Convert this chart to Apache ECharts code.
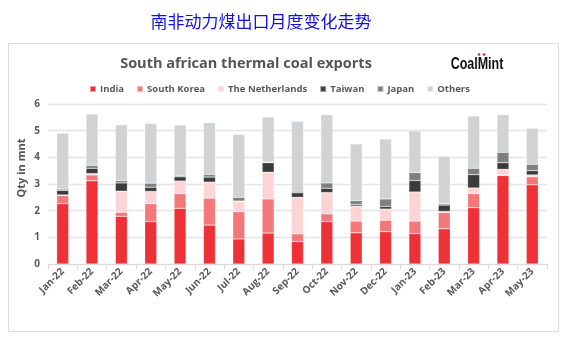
<!DOCTYPE html>
<html><head><meta charset="utf-8">
<script src="https://cdn.jsdelivr.net/npm/echarts@6/dist/echarts.min.js"></script>
<style>html,body{margin:0;padding:0;background:#fff}#c{width:569px;height:345px}</style>
</head><body><div id="c"></div>
<script>
const categories = ['Jan-22','Feb-22','Mar-22','Apr-22','May-22','Jun-22','Jul-22','Aug-22','Sep-22','Oct-22','Nov-22','Dec-22','Jan-23','Feb-23','Mar-23','Apr-23','May-23'];
const india       = [2.26,3.12,1.79,1.59,2.09,1.46,0.94,1.16,0.84,1.59,1.17,1.21,1.14,1.32,2.11,3.32,2.97];
const southKorea  = [0.31,0.22,0.15,0.67,0.55,1.01,1.02,1.28,0.29,0.29,0.44,0.43,0.47,0.61,0.53,0.02,0.30];
const netherlands = [0.02,0.05,0.79,0.46,0.47,0.60,0.38,1.00,1.37,0.80,0.56,0.42,1.09,0.04,0.21,0.21,0.07];
const taiwan      = [0.17,0.20,0.31,0.16,0.16,0.19,0.02,0.36,0.17,0.16,0.06,0.10,0.43,0.24,0.50,0.25,0.16];
const japan       = [0.05,0.11,0.09,0.15,0.05,0.10,0.14,0.02,0.06,0.20,0.15,0.28,0.30,0.05,0.24,0.39,0.24];
const others      = [2.09,1.92,2.09,2.24,1.89,1.94,2.36,1.69,2.62,2.56,2.12,2.25,1.56,1.78,1.96,1.41,1.35];
const yTicks = [0,1,2,3,4,5,6];

const seriesDefs = [
  ['India', india, '#ee3137'],
  ['South Korea', southKorea, '#f47779'],
  ['The Netherlands', netherlands, '#fdd4d6'],
  ['Taiwan', taiwan, '#3b3b3b'],
  ['Japan', japan, '#7f7f7f'],
  ['Others', others, '#d1d2d4']
];
const font = '"Open Sans", Lato, sans-serif';
const chart = echarts.init(document.getElementById('c'), null, {renderer:'canvas'});
chart.setOption({
  animation:false,
  backgroundColor:'#fff',
  graphic:[
    {type:'rect', shape:{x:8.5,y:43.5,width:550,height:288}, style:{fill:'none', stroke:'#dcdcdc', lineWidth:1}, z:-1},
    {type:'text', x:261, y:22, style:{text:'南非动力煤出口月度变化走势', align:'center', verticalAlign:'middle', fill:'#1010f0', font:'17px "Noto Sans CJK SC"'}},
    {type:'text', x:246, y:64, style:{text:'South african thermal coal exports', align:'center', verticalAlign:'middle', fill:'#555555', font:'bold 14.5px '+font}},
    {type:'text', x:477, y:65, scaleX:0.78, style:{text:'CoalMint', align:'center', verticalAlign:'middle', fill:'#111', font:'bold 16px "Liberation Sans", Arial, sans-serif'}},
    {type:'circle', shape:{cx:479, cy:54.5, r:1.3}, style:{fill:'#e02020'}},
    {type:'circle', shape:{cx:484, cy:54.5, r:1.3}, style:{fill:'#e02020'}},
    {type:'text', rotation:Math.PI/2, x:22, y:168, style:{text:'Qty in mnt', align:'center', verticalAlign:'middle', fill:'#555555', font:'bold 11px '+font}}
  ],
  legend:{
    left:89, top:84, padding:0, itemWidth:6, itemHeight:6, itemGap:12, icon:'rect',
    textStyle:{color:'#595959', fontSize:9.5, fontWeight:'bold', fontFamily:font, padding:[0,0,0,-1]},
    data:seriesDefs.map(d=>d[0])
  },
  grid:{left:48, right:22, top:104, bottom:81},
  xAxis:{
    type:'category', data:categories, boundaryGap:true,
    axisLine:{lineStyle:{color:'#d9d9d9', width:1}},
    axisTick:{show:true, length:5, lineStyle:{color:'#d9d9d9'}},
    axisLabel:{rotate:45, color:'#595959', fontSize:10, fontWeight:'bold', fontFamily:font, margin:6, interval:0}
  },
  yAxis:{
    type:'value', min:0, max:6, interval:1,
    axisLine:{show:false}, axisTick:{show:false},
    splitLine:{lineStyle:{color:'#e4e4e4', width:1.3}},
    axisLabel:{color:'#595959', fontSize:10, fontWeight:'bold', fontFamily:font, margin:8,
      formatter:v=>yTicks.includes(v)?String(v):''}
  },
  series:seriesDefs.map(d=>({
    name:d[0], type:'bar', stack:'total', data:d[1], barWidth:12,
    itemStyle:{color:d[2], borderColor:'rgba(255,255,255,0.5)', borderWidth:0.5}
  }))
});
</script></body></html>
